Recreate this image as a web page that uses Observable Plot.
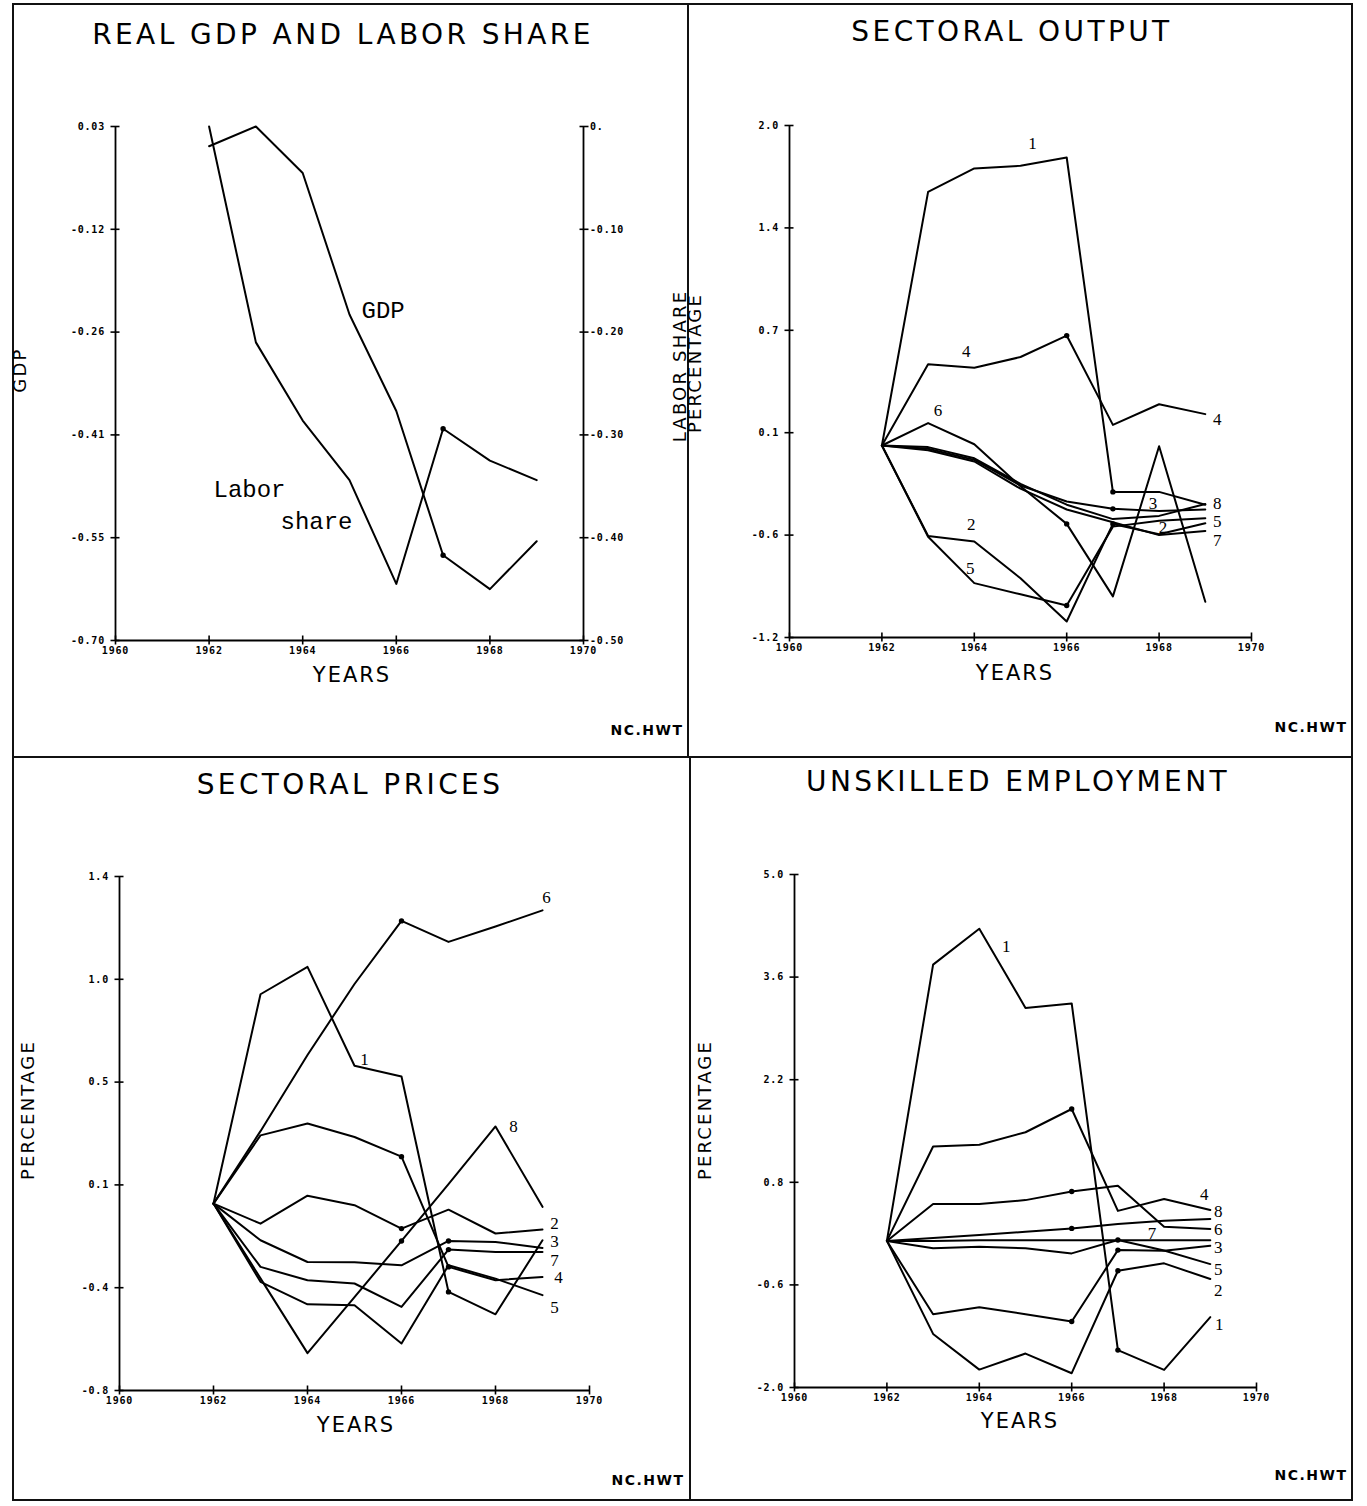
<!DOCTYPE html>
<html><head><meta charset="utf-8">
<script src="https://cdn.jsdelivr.net/npm/d3@7"></script>
<script src="https://cdn.jsdelivr.net/npm/@observablehq/plot@0.6"></script>
<style>
body{margin:0;background:#fff;}
#page{position:relative;width:1367px;height:1506px;background:#fff;overflow:hidden;font-family:"DejaVu Sans",sans-serif;color:#000;}
.ln{position:absolute;background:#111;}
.t{position:absolute;white-space:nowrap;transform:translate(-50%,-50%);line-height:1;}
.title{font-size:28px;letter-spacing:3.4px;font-weight:normal;}
.years{font-size:21px;letter-spacing:2px;font-weight:normal;}
.ytitle{font-size:18px;letter-spacing:2.2px;font-weight:normal;transform:translate(-50%,-50%) rotate(-90deg);}
.nc{font-size:14px;font-weight:bold;letter-spacing:1.5px;}
.pl{position:absolute;}
.pl svg{overflow:visible;}
[aria-label="y-axis tick label"],[aria-label="x-axis tick label"]{letter-spacing:0.8px;}
</style></head>
<body><div id="page"></div>
<script>
// ---------- data ----------
const years = [1962, 1963, 1964, 1965, 1966, 1967, 1968, 1969];
const xTicks = [1960, 1962, 1964, 1966, 1968, 1970];
const sectors = ["1", "2", "3", "4", "5", "6", "7", "8"];

// Panel 1: real GDP (left axis) and labor share (right axis), percentage
const gdp = [0.002, 0.03, -0.036, -0.237, -0.374, -0.579, -0.627, -0.559];
const laborShare = [0, -0.210, -0.286, -0.344, -0.445, -0.294, -0.325, -0.344];
const gdpTicks = [0.03, -0.116, -0.262, -0.408, -0.554, -0.70];
const gdpTickLabels = ["0.03", "-0.12", "-0.26", "-0.41", "-0.55", "-0.70"];
const laborTicks = [0, -0.1, -0.2, -0.3, -0.4, -0.5];
const laborTickLabels = ["0.", "-0.10", "-0.20", "-0.30", "-0.40", "-0.50"];

// Panel 2: sectoral output, sectors 1..8
const outputValues = [
  [0, 1.585, 1.732, 1.748, 1.80, -0.29, -0.29, -0.37],
  [0, -0.565, -0.60, -0.83, -1.10, -0.49, -0.555, -0.486],
  [0, -0.02, -0.09, -0.25, -0.35, -0.396, -0.41, -0.40],
  [0, 0.508, 0.486, 0.553, 0.687, 0.129, 0.258, 0.196],
  [0, -0.57, -0.86, -0.93, -1.00, -0.507, -0.47, -0.454],
  [0, 0.14, 0.008, -0.255, -0.49, -0.943, -0.005, -0.977],
  [0, -0.03, -0.10, -0.27, -0.40, -0.48, -0.56, -0.534],
  [0, -0.01, -0.08, -0.24, -0.37, -0.46, -0.44, -0.366]
];
const outputTicks = [2.0, 1.36, 0.72, 0.08, -0.56, -1.2];
const outputTickLabels = ["2.0", "1.4", "0.7", "0.1", "-0.6", "-1.2"];

// Panel 3: sectoral prices
const priceValues = [
  [0, 0.896, 1.013, 0.59, 0.544, -0.378, -0.474, -0.157],
  [0, -0.086, 0.034, -0.007, -0.107, -0.026, -0.128, -0.111],
  [0, -0.157, -0.25, -0.251, -0.264, -0.16, -0.164, -0.19],
  [0, 0.292, 0.343, 0.285, 0.201, -0.271, -0.328, -0.314],
  [0, -0.335, -0.431, -0.435, -0.599, -0.264, -0.321, -0.392],
  [0, 0.31, 0.636, 0.94, 1.21, 1.12, 1.186, 1.255],
  [0, -0.271, -0.328, -0.342, -0.442, -0.197, -0.207, -0.207],
  [0, -0.32, -0.64, -0.40, -0.16, 0.083, 0.33, -0.014]
];
const priceTicks = [1.4, 0.96, 0.52, 0.08, -0.36, -0.8];
const priceTickLabels = ["1.4", "1.0", "0.5", "0.1", "-0.4", "-0.8"];

// Panel 4: unskilled employment
const employValues = [
  [0, 3.77, 4.26, 3.18, 3.24, -1.49, -1.76, -1.04],
  [0, -1.269, -1.756, -1.537, -1.805, -0.407, -0.306, -0.52],
  [0, -1.0, -0.904, -1.0, -1.1, -0.125, -0.134, -0.066],
  [0, 1.288, 1.313, 1.483, 1.80, 0.41, 0.571, 0.421],
  [0, -0.10, -0.08, -0.10, -0.17, 0.012, -0.13, -0.316],
  [0, 0.503, 0.503, 0.557, 0.675, 0.753, 0.193, 0.162],
  [0, 0.0, 0.01, 0.01, 0.01, 0.01, 0.01, 0.01],
  [0, 0.04, 0.08, 0.125, 0.171, 0.23, 0.275, 0.298]
];
const employTicks = [5.0, 3.6, 2.2, 0.8, -0.6, -2.0];
const employTickLabels = ["5.0", "3.6", "2.2", "0.8", "-0.6", "-2.0"];

// line labels: which series, which year it is attached to, and the text
const outputLabels = [
  {s: "1", year: 1965, text: "1", dx: 12, dy: -22},
  {s: "4", year: 1964, text: "4", dx: -8, dy: -16},
  {s: "4", year: 1969, text: "4", dx: 12, dy: 5},
  {s: "6", year: 1963, text: "6", dx: 10, dy: -13},
  {s: "2", year: 1964, text: "2", dx: -3, dy: -17},
  {s: "5", year: 1964, text: "5", dx: -4, dy: -15},
  {s: "3", year: 1968, text: "3", dx: -6, dy: -8},
  {s: "2", year: 1968, text: "2", dx: 4, dy: -7},
  {s: "8", year: 1969, text: "8", dx: 12, dy: -1},
  {s: "5", year: 1969, text: "5", dx: 12, dy: 3},
  {s: "7", year: 1969, text: "7", dx: 12, dy: 10}
];
const priceLabels = [
  {s: "6", year: 1969, text: "6", dx: 4, dy: -13},
  {s: "1", year: 1965, text: "1", dx: 10, dy: -6},
  {s: "8", year: 1968, text: "8", dx: 18, dy: 0},
  {s: "2", year: 1969, text: "2", dx: 12, dy: -6},
  {s: "3", year: 1969, text: "3", dx: 12, dy: -6},
  {s: "7", year: 1969, text: "7", dx: 12, dy: 9},
  {s: "4", year: 1969, text: "4", dx: 16, dy: 1},
  {s: "5", year: 1969, text: "5", dx: 12, dy: 12}
];
const employLabels = [
  {s: "1", year: 1964, text: "1", dx: 27, dy: 18},
  {s: "4", year: 1969, text: "4", dx: -6, dy: -16},
  {s: "8", year: 1969, text: "8", dx: 8, dy: -8},
  {s: "6", year: 1969, text: "6", dx: 8, dy: 0},
  {s: "7", year: 1968, text: "7", dx: -12, dy: -7},
  {s: "3", year: 1969, text: "3", dx: 8, dy: 2},
  {s: "5", year: 1969, text: "5", dx: 8, dy: 5},
  {s: "2", year: 1969, text: "2", dx: 8, dy: 12},
  {s: "1", year: 1969, text: "1", dx: 9, dy: 7}
];
// plotter marker dots
const outputDots = [["4", 1966], ["6", 1966], ["5", 1966], ["1", 1967], ["3", 1967], ["2", 1967]];
const priceDots = [["6", 1966], ["4", 1966], ["2", 1966], ["8", 1966], ["1", 1967], ["3", 1967], ["4", 1967], ["7", 1967]];
const employDots = [["4", 1966], ["6", 1966], ["8", 1966], ["3", 1966], ["2", 1967], ["5", 1967], ["1", 1967], ["3", 1967]];

// ---------- helpers ----------
const page = document.getElementById("page");
function line(x, y, w, h) {
  const d = document.createElement("div");
  d.className = "ln";
  Object.assign(d.style, {left: x + "px", top: y + "px", width: w + "px", height: h + "px"});
  page.appendChild(d);
}
function txt(s, cls, cx, cy) {
  const d = document.createElement("div");
  d.className = "t " + cls;
  d.textContent = s;
  Object.assign(d.style, {left: cx + "px", top: cy + "px"});
  page.appendChild(d);
}
const tickFont = {fontSize: 10, fontWeight: "bold", fontFamily: "DejaVu Sans Mono"};
function yAxis(ticks, labels, extra = {}) {
  const m = new Map(ticks.map((t, i) => [t, labels[i]]));
  return Plot.axisY({ticks, tickFormat: d => m.get(d), label: null, tickSize: 9, dx: 4.5, tickPadding: 6, strokeWidth: 1.6, ...tickFont, ...extra});
}
function xAxis() {
  return Plot.axisX({ticks: xTicks, tickFormat: d => String(d), label: null, tickSize: 9, dy: -4.5, tickPadding: 2, strokeWidth: 1.6, ...tickFont});
}
function toRows(values) {
  return values.flatMap((vals, i) => vals.map((v, j) => ({sector: sectors[i], year: years[j], value: v})));
}
function lookup(values, s, year) {
  return values[sectors.indexOf(s)][years.indexOf(year)];
}
function numLabels(values, labels) {
  return labels.map(l => Plot.text([{year: l.year, value: lookup(values, l.s, l.year), text: l.text}],
    {x: "year", y: "value", text: "text", dx: l.dx, dy: l.dy, fontSize: 17, fontFamily: "Liberation Serif", fill: "#000"}));
}
function dotMarks(values, dots) {
  return Plot.dot(dots.map(([s, y]) => ({year: y, value: lookup(values, s, y)})), {x: "year", y: "value", r: 2.7, fill: "#000"});
}
function place(svg, left, top) {
  const d = document.createElement("div");
  d.className = "pl";
  Object.assign(d.style, {left: left + "px", top: top + "px"});
  d.appendChild(svg);
  page.appendChild(d);
}
function sectorPanel(values, ticks, tickLabels, labels, dots, geom) {
  return Plot.plot({
    width: geom.width, height: geom.height,
    marginLeft: geom.ml, marginRight: geom.mr, marginTop: geom.mt, marginBottom: geom.mb,
    x: {domain: [1960, 1970]},
    y: {domain: [ticks[ticks.length - 1], ticks[0]]},
    style: {background: "transparent", color: "#000"},
    marks: [
      Plot.ruleX([1960], {stroke: "#000", strokeWidth: 1.8}),
      Plot.ruleY([ticks[ticks.length - 1]], {stroke: "#000", strokeWidth: 1.8}),
      yAxis(ticks, tickLabels),
      xAxis(),
      Plot.line(toRows(values), {x: "year", y: "value", z: "sector", stroke: "#000", strokeWidth: 2}),
      dotMarks(values, dots),
      ...numLabels(values, labels)
    ]
  });
}

// ---------- panel 1 ----------
const gdpTop = gdpTicks[0], gdpBottom = gdpTicks[gdpTicks.length - 1];
const laborToGdp = l => gdpTop + l * (gdpTop - gdpBottom) / (laborTicks[0] - laborTicks[laborTicks.length - 1]);
const p1rows = [
  ...years.map((y, j) => ({series: "GDP", year: y, value: gdp[j]})),
  ...years.map((y, j) => ({series: "Labor share", year: y, value: laborToGdp(laborShare[j])}))
];
const laborPos = laborTicks.map(laborToGdp);
const laborMap = new Map(laborPos.map((p, i) => [p, laborTickLabels[i]]));
const p1 = Plot.plot({
  width: 676, height: 600, marginLeft: 103, marginRight: 105, marginTop: 26, marginBottom: 60,
  x: {domain: [1960, 1970]},
  y: {domain: [gdpBottom, gdpTop]},
  style: {background: "transparent", color: "#000"},
  marks: [
    Plot.ruleX([1960, 1970], {stroke: "#000", strokeWidth: 1.8}),
    Plot.ruleY([gdpBottom], {stroke: "#000", strokeWidth: 1.8}),
    yAxis(gdpTicks, gdpTickLabels),
    Plot.axisY({anchor: "right", ticks: laborPos, tickFormat: d => laborMap.get(d), label: null, tickSize: 9, dx: -4.5, tickPadding: 2, strokeWidth: 1.6, ...tickFont}),
    xAxis(),
    Plot.line(p1rows, {x: "year", y: "value", z: "series", stroke: "#000", strokeWidth: 2}),
    Plot.dot([{year: 1967, value: gdp[5]}, {year: 1967, value: laborToGdp(laborShare[5])}], {x: "year", y: "value", r: 2.7, fill: "#000"}),
    Plot.text([{year: 1965, value: gdp[3], t: "GDP"}], {x: "year", y: "value", text: "t", dx: 12, dy: -4, textAnchor: "start", fontSize: 24, fontFamily: "Liberation Mono"}),
    Plot.text([{year: 1965, value: laborToGdp(laborShare[3]), t: "Labor"}], {x: "year", y: "value", text: "t", dx: -100, dy: 9, fontSize: 24, fontFamily: "Liberation Mono"}),
    Plot.text([{year: 1965, value: laborToGdp(laborShare[3]), t: "share"}], {x: "year", y: "value", text: "t", dx: -33, dy: 41, fontSize: 24, fontFamily: "Liberation Mono"})
  ]
});
place(p1, 12, 100);

place(sectorPanel(outputValues, outputTicks, outputTickLabels, outputLabels, outputDots,
  {width: 664, height: 600, ml: 101, mr: 101, mt: 25, mb: 63}), 688, 100);
place(sectorPanel(priceValues, priceTicks, priceTickLabels, priceLabels, priceDots,
  {width: 678, height: 600, ml: 107, mr: 101, mt: 26, mb: 60}), 12, 850);
place(sectorPanel(employValues, employTicks, employTickLabels, employLabels, employDots,
  {width: 662, height: 600, ml: 104, mr: 96, mt: 24, mb: 63}), 690, 850);

// ---------- frame and texts ----------
line(12, 3, 1341, 2);
line(12, 3, 2, 1498);
line(1351, 3, 2, 1498);
line(687, 3, 2, 755);
line(689, 757, 2, 744);
line(12, 756, 1341, 2);
line(12, 1499, 1341, 2);

txt("REAL GDP AND LABOR SHARE", "title", 343, 35);
txt("SECTORAL OUTPUT", "title", 1012, 32);
txt("SECTORAL PRICES", "title", 350, 785);
txt("UNSKILLED EMPLOYMENT", "title", 1018, 782);
txt("YEARS", "years", 352, 675);
txt("YEARS", "years", 1015, 673);
txt("YEARS", "years", 356, 1425);
txt("YEARS", "years", 1020, 1421);
txt("NC.HWT", "nc", 647, 730);
txt("NC.HWT", "nc", 1311, 727);
txt("NC.HWT", "nc", 648, 1480);
txt("NC.HWT", "nc", 1311, 1475);
txt("GDP", "ytitle", 20, 370);
txt("LABOR SHARE", "ytitle", 680, 366);
txt("PERCENTAGE", "ytitle", 695, 363);
txt("PERCENTAGE", "ytitle", 28, 1110);
txt("PERCENTAGE", "ytitle", 705, 1110);
</script>
</body></html>
